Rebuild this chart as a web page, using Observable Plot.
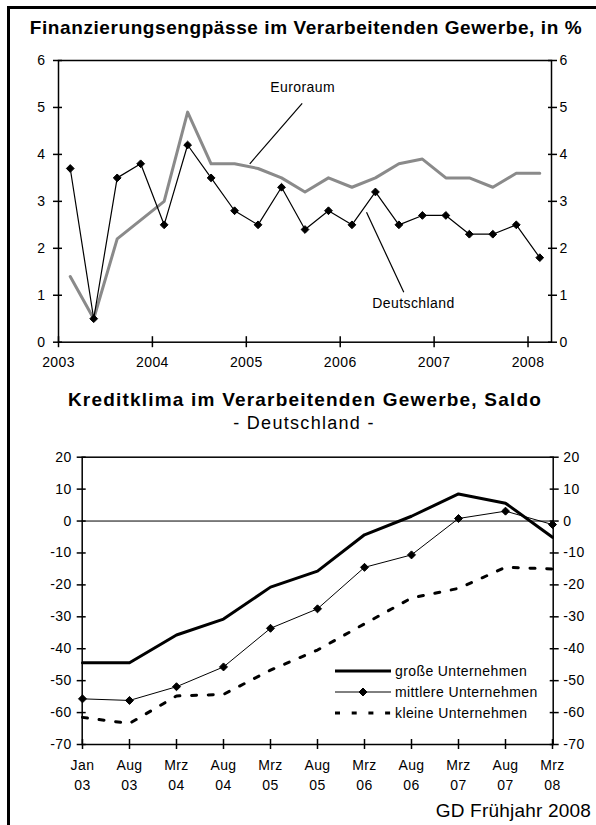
<!DOCTYPE html>
<html>
<head>
<meta charset="utf-8">
<script src="https://cdn.jsdelivr.net/npm/d3@7"></script>
<script src="https://cdn.jsdelivr.net/npm/@observablehq/plot@0.6"></script>
<style>
  html, body { margin: 0; padding: 0; background: #fff; }
  body { width: 596px; height: 825px; position: relative; overflow: hidden;
         font-family: "Liberation Sans", Arial, sans-serif; color: #000; }
  .abs { position: absolute; white-space: nowrap; line-height: 1; }
  #frame { position: absolute; left: 7px; top: 6px; width: 600px; height: 830px;
           border-top: 3px solid #000; border-left: 3px solid #000; z-index: 10; pointer-events: none; }
  svg text { letter-spacing: 0.4px; }
  .legrow { position: absolute; left: 335px; height: 14px; display: flex; align-items: center; font-size: 14px; letter-spacing: 0.4px; }
  .legrow svg { display: block; margin-right: 4px; }
</style>
</head>
<body>
<div id="title1" class="abs" style="font-weight:bold;font-size:19px;letter-spacing:0.58px;left:306px;top:18px;transform:translateX(-50%);">Finanzierungsengpässe im Verarbeitenden Gewerbe, in %</div>
<div id="chart1" style="position:absolute;left:0;top:0;"></div>
<div id="title2" class="abs" style="font-weight:bold;font-size:19px;letter-spacing:1.2px;left:305px;top:390px;transform:translateX(-50%);">Kreditklima im Verarbeitenden Gewerbe, Saldo</div>
<div id="subtitle2" class="abs" style="font-size:18px;letter-spacing:1.3px;left:304px;top:414px;transform:translateX(-50%);">- Deutschland -</div>
<div id="chart2" style="position:absolute;left:0;top:440px;"></div>
<div id="legend"></div>
<div id="footer" class="abs" style="font-size:19px;letter-spacing:0.2px;right:5px;top:801px;">GD Frühjahr 2008</div>
<div id="frame"></div>
<script>
// ---------- Chart 1: Finanzierungsengpässe (quarterly, in %) ----------
const quarters = ["I/03","II/03","III/03","IV/03","I/04","II/04","III/04","IV/04",
                  "I/05","II/05","III/05","IV/05","I/06","II/06","III/06","IV/06",
                  "I/07","II/07","III/07","IV/07","I/08"];
const deutschland = [3.7, 0.5, 3.5, 3.8, 2.5, 4.2, 3.5, 2.8, 2.5, 3.3, 2.4,
                     2.8, 2.5, 3.2, 2.5, 2.7, 2.7, 2.3, 2.3, 2.5, 1.8];
const euroraum    = [1.4, 0.5, 2.2, 2.6, 3.0, 4.9, 3.8, 3.8, 3.7, 3.5, 3.2,
                     3.5, 3.3, 3.5, 3.8, 3.9, 3.5, 3.5, 3.3, 3.6, 3.6];
const yearTicks = [2003, 2004, 2005, 2006, 2007, 2008];
const yTicks1 = [0, 1, 2, 3, 4, 5, 6];
// annotation labels with leader lines (data coordinates)
const notes1 = [
  {label: "Euroraum",    tx: 2005.60, ty: 5.43, x1: 2005.595, y1: 5.085, x2: 2005.037, y2: 3.80},
  {label: "Deutschland", tx: 2006.78, ty: 0.82, x1: 2006.280, y1: 2.766, x2: 2006.677, y2: 1.064}
];

// ---------- Chart 2: Kreditklima (Saldo) ----------
const months = ["Jan","Aug","Mrz","Aug","Mrz","Aug","Mrz","Aug","Mrz","Aug","Mrz"];
const yrs    = ["03","03","04","04","05","05","06","06","07","07","08"];
const grosse   = [-44.4, -44.4, -35.7, -30.7, -20.7, -15.7, -4.3, 1.5, 8.5, 5.6, -5.1];
const mittlere = [-55.7, -56.2, -51.9, -45.7, -33.6, -27.5, -14.5, -10.6, 0.8, 3.1, -1.1];
const kleine   = [-61.5, -63.4, -54.8, -54.3, -46.7, -40.4, -32.2, -24.1, -21.1, -14.5, -15.0];
const yTicks2 = [20, 10, 0, -10, -20, -30, -40, -50, -60, -70];
const seriesNames = ["große Unternehmen", "mittlere Unternehmen", "kleine Unternehmen"];

const FS = 14;
const fmt = d => String(d);

// ----- build chart 1 -----
const data1 = quarters.map((q, i) => ({q, x: 2003 + (i + 0.5) / 4, de: deutschland[i], eu: euroraum[i]}));

const chart1 = Plot.plot({
  width: 596, height: 380,
  marginLeft: 58, marginRight: 45, marginTop: 60, marginBottom: 38.3,
  style: {background: "transparent", fontFamily: "Liberation Sans, Arial, sans-serif", fontSize: FS + "px", color: "#000"},
  x: {domain: [2003, 2008.25], label: null},
  y: {domain: [0, 6], label: null},
  marks: [
    Plot.frame({stroke: "#000", strokeWidth: 1.5}),
    Plot.axisY({anchor: "left", ticks: yTicks1, tickSize: 9, dx: 4, fill: "none", strokeWidth: 1.5, label: null}),
    Plot.axisY({anchor: "left", ticks: yTicks1, tickSize: 0, tickPadding: 13, fontSize: FS, tickFormat: fmt, label: null}),
    Plot.axisY({anchor: "right", ticks: yTicks1, tickSize: 9, dx: -4, fill: "none", strokeWidth: 1.5, label: null}),
    Plot.axisY({anchor: "right", ticks: yTicks1, tickSize: 0, tickPadding: 8, fontSize: FS, tickFormat: fmt, label: null}),
    Plot.axisX({anchor: "bottom", ticks: yearTicks, tickSize: 11, dy: -5.5, fill: "none", strokeWidth: 1.5, label: null}),
    Plot.axisX({anchor: "bottom", ticks: yearTicks, tickSize: 0, tickPadding: 15, fontSize: FS, tickFormat: fmt, label: null}),
    Plot.line(data1, {x: "x", y: "eu", stroke: "#8a8a8a", strokeWidth: 3}),
    Plot.line(data1, {x: "x", y: "de", stroke: "#000", strokeWidth: 1.2}),
    Plot.dot(data1, {x: "x", y: "de", symbol: "diamond2", r: 3.5, fill: "#000", stroke: "#000", strokeWidth: 1}),
    Plot.link(notes1, {x1: "x1", y1: "y1", x2: "x2", y2: "y2", stroke: "#000", strokeWidth: 1.2}),
    Plot.text(notes1, {x: "tx", y: "ty", text: "label", fontSize: FS, fill: "#000"})
  ]
});
document.getElementById("chart1").appendChild(chart1);

// ----- build chart 2 -----
const cats = months.map((m, i) => m + " " + yrs[i]);
const data2 = cats.map((c, i) => ({c, g: grosse[i], m: mittlere[i], k: kleine[i]}));

const chart2 = Plot.plot({
  width: 596, height: 360,
  marginLeft: 81.7, marginRight: 43.3, marginTop: 16.7, marginBottom: 56,
  style: {background: "transparent", fontFamily: "Liberation Sans, Arial, sans-serif", fontSize: FS + "px", color: "#000"},
  x: {type: "point", domain: cats, padding: 0, label: null},
  y: {domain: [-70, 20], label: null},
  marks: [
    Plot.frame({stroke: "#000", strokeWidth: 1.5}),
    Plot.ruleY([0], {stroke: "#000", strokeWidth: 1}),
    Plot.axisY({anchor: "left", ticks: yTicks2, tickSize: 9, dx: 4, fill: "none", strokeWidth: 1.5, label: null}),
    Plot.axisY({anchor: "left", ticks: yTicks2, tickSize: 0, tickPadding: 10.5, fontSize: FS, tickFormat: fmt, label: null}),
    Plot.axisY({anchor: "right", ticks: yTicks2, tickSize: 9, dx: -4, fill: "none", strokeWidth: 1.5, label: null}),
    Plot.axisY({anchor: "right", ticks: yTicks2, tickSize: 0, tickPadding: 10, fontSize: FS, tickFormat: fmt, label: null}),
    Plot.axisX({anchor: "bottom", tickSize: 10, dy: -5, fill: "none", strokeWidth: 1.5, label: null}),
    Plot.axisX({anchor: "bottom", tickSize: 0, tickPadding: 11.5, fontSize: FS, lineHeight: 1.43,
                tickFormat: d => d.replace(" ", "\n"), label: null}),
    Plot.line(data2, {x: "c", y: "k", stroke: "#000", strokeWidth: 3, strokeDasharray: "5,11.7"}),
    Plot.line(data2, {x: "c", y: "g", stroke: "#000", strokeWidth: 3}),
    Plot.line(data2, {x: "c", y: "m", stroke: "#000", strokeWidth: 1}),
    Plot.dot(data2, {x: "c", y: "m", symbol: "diamond2", r: 3.6, fill: "#000", stroke: "#000", strokeWidth: 1})
  ]
});
document.getElementById("chart2").appendChild(chart2);

// ----- legend (HTML) -----
const legendStyles = [
  {w: 3, dash: null, marker: false},
  {w: 1, dash: null, marker: true},
  {w: 3, dash: "5,11.7", marker: false}
];
const legendTops = [663.7, 685.3, 705.7];
const legend = document.getElementById("legend");
seriesNames.forEach((name, i) => {
  const s = legendStyles[i];
  const row = document.createElement("div");
  row.className = "legrow";
  row.style.top = legendTops[i] + "px";
  const ns = "http://www.w3.org/2000/svg";
  const svg = document.createElementNS(ns, "svg");
  svg.setAttribute("width", 56); svg.setAttribute("height", 14);
  const ln = document.createElementNS(ns, "line");
  ln.setAttribute("x1", 0); ln.setAttribute("x2", 56);
  ln.setAttribute("y1", 7); ln.setAttribute("y2", 7);
  ln.setAttribute("stroke", "#000"); ln.setAttribute("stroke-width", s.w);
  if (s.dash) ln.setAttribute("stroke-dasharray", s.dash);
  svg.appendChild(ln);
  if (s.marker) {
    const p = document.createElementNS(ns, "path");
    p.setAttribute("d", d3.symbol(d3.symbolDiamond2, 3.6 * 3.6 * Math.PI)());
    p.setAttribute("transform", "translate(28,7)");
    p.setAttribute("fill", "#000"); p.setAttribute("stroke", "#000");
    svg.appendChild(p);
  }
  row.appendChild(svg);
  const t = document.createElement("span");
  t.textContent = name;
  row.appendChild(t);
  legend.appendChild(row);
});
</script>
</body>
</html>
